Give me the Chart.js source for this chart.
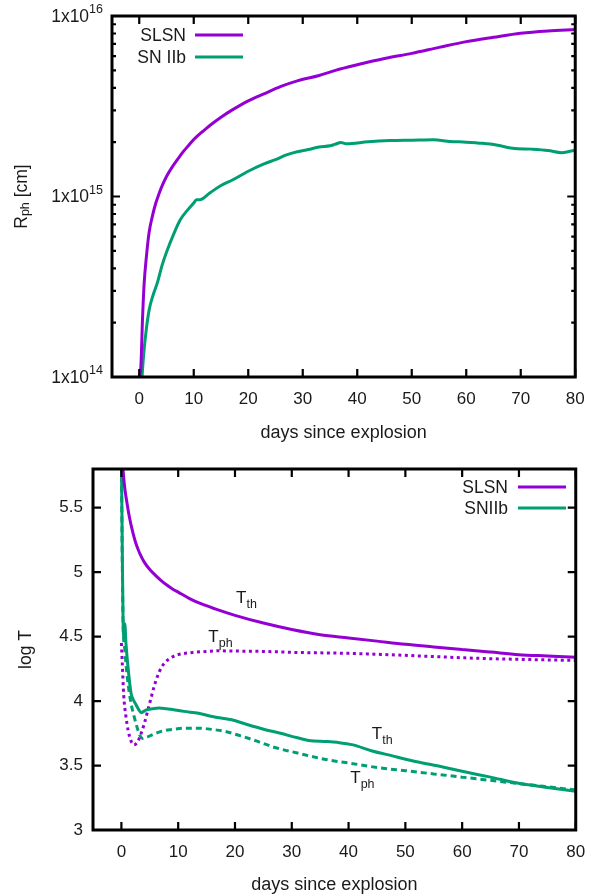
<!DOCTYPE html>
<html>
<head>
<meta charset="utf-8">
<script src="https://cdn.jsdelivr.net/npm/chart.js@4.4.1/dist/chart.umd.min.js"></script>
<style>
  body { margin: 0; background: #fff; }
  canvas { display: block; }
</style>
</head>
<body>
<canvas id="radius" width="597" height="448"></canvas>
<canvas id="temperature" width="597" height="448"></canvas>
<script>
// photospheric radius [cm] vs days since explosion
const dayRadSL = [0, 0.3, 0.6, 0.9, 1.3, 1.8, 2.4, 3, 3.5, 4, 5, 6, 7, 8, 9, 10, 11, 12, 13, 15, 17, 20, 23, 26, 29, 33, 36, 40, 45, 50, 55, 60, 65, 70, 75, 80];
const radSL = [1.0e14, 1.15e14, 2.1e14, 3.3e14, 4.6e14, 6.3e14, 7.76e14, 9.12e14, 1.01e15, 1.11e15, 1.29e15, 1.45e15, 1.60e15, 1.76e15, 1.91e15, 2.07e15, 2.21e15, 2.34e15, 2.48e15, 2.75e15, 3.01e15, 3.39e15, 3.72e15, 4.07e15, 4.37e15, 4.68e15, 5.0e15, 5.37e15, 5.82e15, 6.21e15, 6.70e15, 7.21e15, 7.62e15, 8.02e15, 8.26e15, 8.41e15];
const dayRadIIb = [0.5, 0.8, 1.2, 1.8, 2.5, 3.3, 4.2, 5.1, 6.3, 7.5, 9, 10, 10.5, 11.1, 13, 15, 17, 20, 23, 25, 27, 29, 31, 33, 35, 36, 37, 38, 42, 46, 50, 54, 57, 60, 63, 65.5, 68.5, 72, 75, 77.5, 79, 80];
const radIIb = [1.0e14, 1.32e14, 1.74e14, 2.34e14, 2.82e14, 3.31e14, 4.17e14, 5.01e14, 6.17e14, 7.41e14, 8.51e14, 9.2e14, 9.6e14, 9.6e14, 1.05e15, 1.15e15, 1.23e15, 1.38e15, 1.52e15, 1.60e15, 1.70e15, 1.77e15, 1.82e15, 1.88e15, 1.91e15, 1.95e15, 1.99e15, 1.96e15, 2.01e15, 2.04e15, 2.05e15, 2.06e15, 2.02e15, 2.0e15, 1.97e15, 1.93e15, 1.85e15, 1.83e15, 1.80e15, 1.75e15, 1.78e15, 1.81e15];

// log T: thermal (th) and photospheric (ph)
const dayThSL = [0.1, 0.3, 0.6, 0.9, 1.4, 2, 2.5, 3, 3.5, 4, 5, 6, 7, 8, 9, 10, 12, 14, 16.5, 20, 25, 30, 35, 40, 45, 50, 55, 60, 65, 70, 75, 80];
const thSL = [5.95, 5.79, 5.65, 5.56, 5.43, 5.31, 5.23, 5.17, 5.12, 5.08, 5.02, 4.975, 4.935, 4.90, 4.87, 4.845, 4.795, 4.755, 4.715, 4.665, 4.605, 4.555, 4.515, 4.49, 4.465, 4.44, 4.42, 4.40, 4.38, 4.36, 4.35, 4.34];
const dayPhSL = [0, 0.15, 0.4, 0.8, 1.2, 1.7, 2.2, 2.8, 3.4, 4, 4.6, 5.2, 5.8, 6.6, 7.5, 8.5, 10, 12.5, 15, 17, 20, 25, 31, 40, 47, 55, 64, 72, 80];
const phSL = [4.45, 4.30, 4.05, 3.88, 3.77, 3.69, 3.66, 3.68, 3.74, 3.82, 3.92, 4.02, 4.12, 4.22, 4.29, 4.33, 4.36, 4.377, 4.385, 4.39, 4.388, 4.385, 4.377, 4.37, 4.36, 4.345, 4.33, 4.322, 4.315];
const dayThIIb = [0, 0.15, 0.3, 0.45, 0.6, 0.8, 1.15, 1.7, 2.1, 2.6, 3.1, 3.5, 4.3, 5.5, 6.6, 8, 9, 11, 13.6, 16, 19.4, 22, 25.2, 28, 31, 33, 36.2, 38, 40.8, 44, 47.7, 52, 56.4, 60, 65, 69.7, 75, 80];
const thIIb = [5.9, 5.2, 4.62, 4.5, 4.6, 4.45, 4.27, 4.06, 4.01, 3.97, 3.93, 3.91, 3.93, 3.94, 3.946, 3.94, 3.935, 3.92, 3.905, 3.88, 3.855, 3.82, 3.78, 3.75, 3.715, 3.695, 3.687, 3.68, 3.66, 3.615, 3.575, 3.53, 3.49, 3.455, 3.41, 3.364, 3.33, 3.30];
const dayPhIIb = [0, 0.15, 0.3, 0.6, 1, 1.4, 1.8, 2.3, 2.8, 3.3, 3.75, 4.5, 5.5, 7, 9, 11, 13.6, 16, 18.2, 21, 24, 27, 31, 36.2, 40, 45, 50, 55, 60, 65, 70, 75, 80];
const phIIb = [5.9, 5.1, 4.6, 4.4, 4.2, 4.06, 3.96, 3.87, 3.79, 3.73, 3.71, 3.72, 3.74, 3.765, 3.78, 3.79, 3.79, 3.78, 3.765, 3.73, 3.687, 3.64, 3.597, 3.545, 3.52, 3.485, 3.46, 3.435, 3.41, 3.385, 3.36, 3.335, 3.31];

const dayTicks = [0, 10, 20, 30, 40, 50, 60, 70, 80];
const radTicks = [1e14, 1e15, 1e16];
const radMinor = [1e14, 1e15].flatMap(d => [2, 3, 4, 5, 6, 7, 8, 9].map(k => k * d));
const tempTicks = [3, 3.5, 4, 4.5, 5, 5.5];

const FONT = '"Liberation Sans", Arial, sans-serif';
const INK = '#1a1a1a';
const PURPLE = '#9400d3';
const GREEN = '#009e73';
const tickFont = { family: FONT, size: 17 };
const titleFont = { family: FONT, size: 18 };

const pts = (xs, ys) => xs.map((d, i) => ({ x: d, y: ys[i] }));

// text made of runs with their own size and vertical shift (sub/superscripts)
function drawRuns(ctx, runs, x, y, align) {
  const widths = runs.map(r => { ctx.font = `${r.s}px ${FONT}`; return ctx.measureText(r.t).width; });
  const total = widths.reduce((p, w) => p + w, 0);
  let cx = align === 'center' ? x - total / 2 : align === 'right' ? x - total : x;
  ctx.textAlign = 'left';
  runs.forEach((r, i) => {
    ctx.font = `${r.s}px ${FONT}`;
    ctx.fillText(r.t, cx, y + r.dy);
    cx += widths[i];
  });
}

// gnuplot style box with inward ticks on all four sides
const frame = {
  id: 'frame',
  afterDatasetsDraw(chart, args, o) {
    const { ctx, chartArea: a, scales } = chart;
    ctx.save();
    ctx.strokeStyle = '#000';
    ctx.lineWidth = 2.2;
    ctx.setLineDash([]);
    ctx.beginPath();
    o.xMajor.forEach(v => {
      const p = scales.x.getPixelForValue(v);
      ctx.moveTo(p, a.bottom); ctx.lineTo(p, a.bottom - 8);
      ctx.moveTo(p, a.top); ctx.lineTo(p, a.top + 8);
    });
    const yTick = (v, len) => {
      const p = scales.y.getPixelForValue(v);
      ctx.moveTo(a.left, p); ctx.lineTo(a.left + len, p);
      ctx.moveTo(a.right, p); ctx.lineTo(a.right - len, p);
    };
    o.yMajor.forEach(v => yTick(v, 8));
    (o.yMinor || []).forEach(v => yTick(v, 4));
    ctx.stroke();
    ctx.lineWidth = 3;
    ctx.strokeRect(a.left, a.top, a.right - a.left, a.bottom - a.top);
    ctx.restore();
  }
};

// key: label text to the left of a short sample line
const keyBox = {
  id: 'keyBox',
  afterDraw(chart, args, o) {
    const ctx = chart.ctx;
    ctx.save();
    chart.data.datasets.filter(d => d.label).forEach((d, i) => {
      const y = o.top + i * o.step;
      ctx.font = `17.5px ${FONT}`;
      ctx.fillStyle = INK;
      ctx.textAlign = 'right';
      ctx.textBaseline = 'middle';
      ctx.fillText(d.label, o.textRight, y);
      ctx.strokeStyle = d.borderColor;
      ctx.lineWidth = 3;
      ctx.beginPath();
      ctx.moveTo(o.lineFrom, y - 1);
      ctx.lineTo(o.lineTo, y - 1);
      ctx.stroke();
    });
    ctx.restore();
  }
};

// 1x10^n labels and the R_ph axis title
const radiusAxis = {
  id: 'radiusAxis',
  afterDraw(chart) {
    const { ctx, chartArea: a, scales: { y } } = chart;
    ctx.save();
    ctx.fillStyle = INK;
    ctx.textBaseline = 'middle';
    radTicks.forEach(v => {
      const p = y.getPixelForValue(v);
      const exp = String(Math.round(Math.log10(v)));
      drawRuns(ctx, [{ t: '1x10', s: 17.5, dy: 1 }, { t: exp, s: 12.5, dy: -6 }], a.left - 9, p, 'right');
    });
    ctx.translate(22, (a.top + a.bottom) / 2);
    ctx.rotate(-Math.PI / 2);
    drawRuns(ctx, [{ t: 'R', s: 17.5, dy: 0 }, { t: 'ph', s: 12.5, dy: 4 }, { t: ' [cm]', s: 17.5, dy: 0 }], 0, 0, 'center');
    ctx.restore();
  }
};

// T_th / T_ph notes next to the curves
const curveNotes = {
  id: 'curveNotes',
  afterDatasetsDraw(chart, args, o) {
    const { ctx, scales: { x, y } } = chart;
    ctx.save();
    ctx.fillStyle = INK;
    ctx.textBaseline = 'alphabetic';
    o.notes.forEach(n => {
      drawRuns(ctx, [{ t: 'T', s: 17, dy: 0 }, { t: n.sub, s: 12.5, dy: 5 }],
        x.getPixelForValue(n.x), y.getPixelForValue(n.y), 'left');
    });
    ctx.restore();
  }
};

const xAxis = (height, labelPad, titlePad) => ({
  type: 'linear', min: -5, max: 80,
  afterFit: s => { s.height = height; },
  afterBuildTicks: s => { s.ticks = dayTicks.map(v => ({ value: v })); },
  grid: { display: false, drawTicks: false },
  border: { display: false },
  ticks: { font: tickFont, color: INK, padding: labelPad, maxRotation: 0, autoSkip: false },
  title: { display: true, text: 'days since explosion', font: titleFont, color: INK, padding: { top: 0, bottom: titlePad } }
});

const line = (data, color, dash, label) => ({
  label: label || '',
  data,
  borderColor: color,
  borderWidth: 3,
  borderDash: dash || [],
  borderCapStyle: 'butt',
  pointRadius: 0,
  fill: false,
  cubicInterpolationMode: 'monotone'
});

new Chart(document.getElementById('radius'), {
  type: 'line',
  data: {
    datasets: [
      line(pts(dayRadSL, radSL), PURPLE, null, 'SLSN'),
      line(pts(dayRadIIb, radIIb), GREEN, null, 'SN IIb')
    ]
  },
  options: {
    responsive: false,
    animation: false,
    layout: { padding: { top: 16, right: 14, left: 0, bottom: 0 } },
    plugins: {
      legend: { display: false },
      tooltip: { enabled: false },
      frame: { xMajor: dayTicks, yMajor: radTicks, yMinor: radMinor },
      keyBox: { textRight: 186, top: 36, step: 22, lineFrom: 195, lineTo: 243 }
    },
    scales: {
      x: xAxis(71, 12.3, 4.2),
      y: {
        type: 'logarithmic', min: 1e14, max: 1e16,
        afterFit: s => { s.width = 112; },
        afterBuildTicks: s => { s.ticks = radTicks.map(v => ({ value: v })); },
        grid: { display: false, drawTicks: false },
        border: { display: false },
        ticks: { display: false }
      }
    }
  },
  plugins: [frame, keyBox, radiusAxis]
});

new Chart(document.getElementById('temperature'), {
  type: 'line',
  data: {
    datasets: [
      line(pts(dayThSL, thSL), PURPLE, null, 'SLSN'),
      line(pts(dayThIIb, thIIb), GREEN, null, 'SNIIb'),
      line(pts(dayPhSL, phSL), PURPLE, [3, 3.5]),
      line(pts(dayPhIIb, phIIb), GREEN, [6, 4])
    ]
  },
  options: {
    responsive: false,
    animation: false,
    layout: { padding: { top: 21, right: 14, left: 0, bottom: 0 } },
    plugins: {
      legend: { display: false },
      tooltip: { enabled: false },
      frame: { xMajor: dayTicks, yMajor: tempTicks },
      keyBox: { textRight: 508, top: 40, step: 21, lineFrom: 518, lineTo: 566 },
      curveNotes: {
        notes: [
          { sub: 'th', x: 20.2, y: 4.762 },
          { sub: 'ph', x: 15.3, y: 4.46 },
          { sub: 'th', x: 44.1, y: 3.708 },
          { sub: 'ph', x: 40.3, y: 3.367 }
        ]
      }
    },
    scales: {
      x: xAxis(66, 11.8, 0),
      y: {
        type: 'linear', min: 3, max: 5.8,
        afterFit: s => { s.width = 93; },
        afterBuildTicks: s => { s.ticks = tempTicks.map(v => ({ value: v })); },
        grid: { display: false, drawTicks: false },
        border: { display: false },
        ticks: { font: tickFont, color: INK, padding: 10, callback: v => String(v) },
        title: { display: true, text: 'log T', font: { family: FONT, size: 17.5 }, color: INK, padding: { top: 15.5, bottom: 0 } }
      }
    }
  },
  plugins: [frame, keyBox, curveNotes]
});
</script>
</body>
</html>
